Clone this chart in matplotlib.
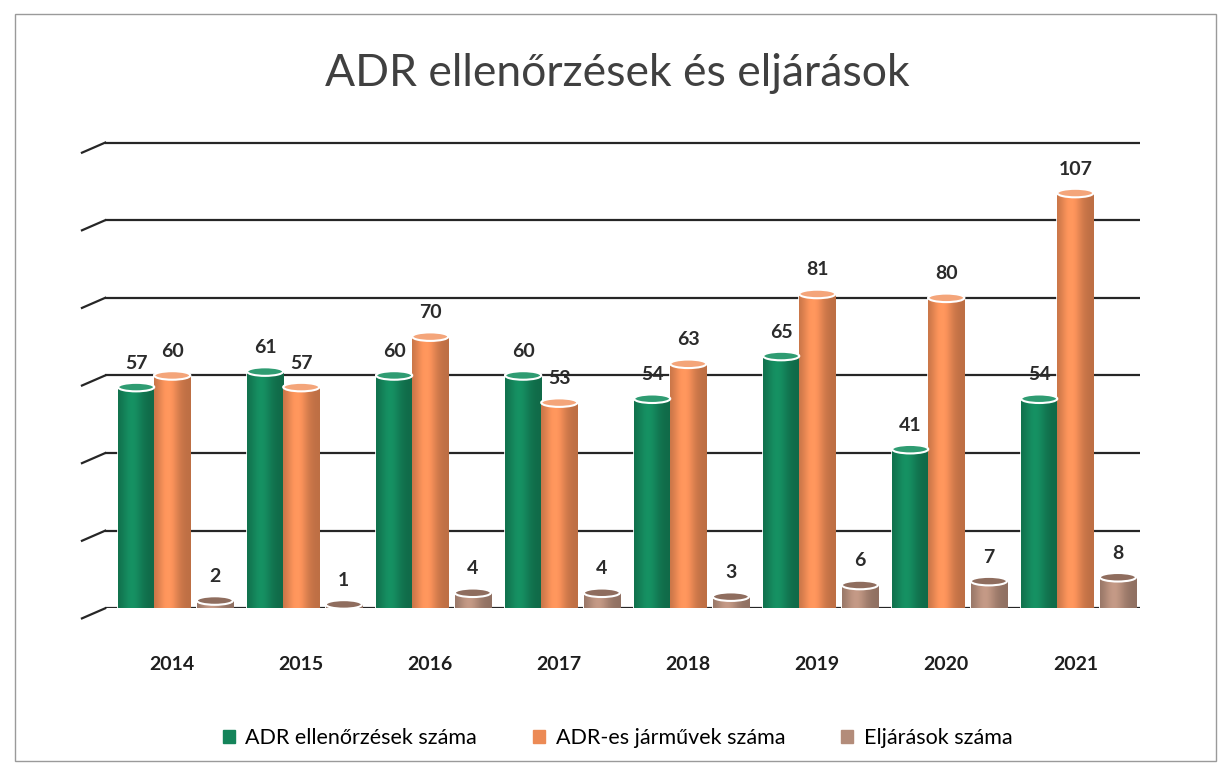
import numpy as np
from matplotlib import pyplot as plt
from matplotlib.colors import to_rgb
from matplotlib.patches import Ellipse, Rectangle

years = ["2014", "2015", "2016", "2017", "2018", "2019", "2020", "2021"]
ellenorzesek = [57, 61, 60, 60, 54, 65, 41, 54]
jarmuvek = [60, 57, 70, 53, 63, 81, 80, 107]
eljarasok = [2, 1, 4, 4, 3, 6, 7, 8]
series_names = ["ADR ellenőrzések száma", "ADR-es járművek száma", "Eljárások száma"]

colors = ["#14845a", "#ec8a55", "#b38c7a"]
top_colors = ["#2f9c72", "#f4a57a", "#8f6d5e"]
offsets = [-0.28, 0.0, 0.33]
width = 0.28

plt.rcParams["font.family"] = ["Lato", "DejaVu Sans"]


def shade(col):
    # horizontal light profile for a cylinder: darker at the edges
    t = np.linspace(0, 1, 64)
    k = 0.80 + 0.30 * np.exp(-((t - 0.38) / 0.3) ** 2)
    rgb = np.clip(np.outer(k, to_rgb(col)), 0, 1)
    return rgb[np.newaxis, :, :]


fig = plt.figure(figsize=(12.23, 7.70), dpi=100)
ax = fig.add_axes([0.086, 0.21, 0.846, 0.63])

xs = np.arange(len(years))

# back wall grid lines with small perspective stubs on the left
for v in range(0, 121, 20):
    ax.axhline(v, color="#262626", lw=1.6, zorder=0)
    ax.plot([-0.70, -0.52], [v - 2.6, v], color="#262626", lw=1.6,
            clip_on=False, zorder=0)

ell_h = 2.2
for vals, off, col, tcol in zip([ellenorzesek, jarmuvek, eljarasok],
                                offsets, colors, top_colors):
    bars = ax.bar(xs + off, vals, width=width, color=col, edgecolor="white",
                  linewidth=1.2, zorder=2)
    for b, v in zip(bars, vals):
        x0 = b.get_x()
        cx = x0 + b.get_width() / 2
        img = ax.imshow(shade(col), extent=[x0, x0 + width, 0, v],
                        aspect="auto", zorder=2.1, interpolation="bilinear")
        img.set_clip_path(b)
        ax.add_patch(Ellipse((cx, 0), width, ell_h, facecolor=col,
                             edgecolor="white", lw=1.2, zorder=1.9))
        ax.add_patch(Ellipse((cx, v), width, ell_h, facecolor=tcol,
                             edgecolor="white", lw=1.5, zorder=3))
        ax.text(cx, v + 4, str(v), ha="center", va="bottom", fontsize=14,
                fontweight="bold", color="#2b2b2b", zorder=4)

ax.set_xlim(-0.52, 7.5)
ax.set_ylim(0, 125)
ax.set_xticks(xs)
ax.set_xticklabels(years, fontsize=14, fontweight="bold", color="#1e1e1e")
ax.tick_params(axis="x", length=0, pad=34)
ax.set_yticks([])
for s in ax.spines.values():
    s.set_visible(False)

fig.text(0.505, 0.905, "ADR ellenőrzések és eljárások", ha="center",
         va="center", fontsize=32, color="#404040")

handles = [Rectangle((0, 0), 1, 1, color=c) for c in colors]
fig.legend(handles, series_names, loc="center", bbox_to_anchor=(0.505, 0.042),
           ncol=3, frameon=False, fontsize=15.5, handlelength=0.55,
           handleheight=0.55, handletextpad=0.5, columnspacing=2.6)

fig.patches.append(Rectangle((0.012, 0.012), 0.982, 0.97, transform=fig.transFigure,
                             fill=False, edgecolor="#9a9a9a", lw=1.0))

plt.savefig("out.png", dpi=100)
